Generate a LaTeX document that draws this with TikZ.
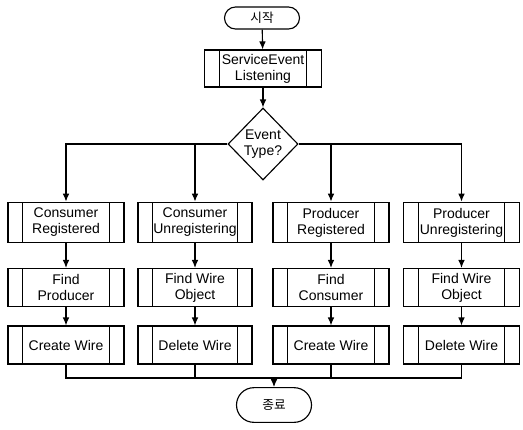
\documentclass[tikz,border=0pt]{standalone}
\usepackage{fontspec}
\setmainfont{Liberation Sans}
\newfontfamily\krfont{Noto Sans CJK KR}
\usetikzlibrary{arrows.meta,shapes.geometric,shapes.misc}
\tikzset{
  line/.style={line width=0.85pt},
  arr/.style={line, -{Latex[length=6pt,width=5pt]}},
  term/.style={draw, line width=0.85pt, rounded rectangle, minimum width=56.25pt, inner sep=0pt, font=\krfont\fontsize{9.5}{11}\selectfont},
  predef/.style={draw, line width=0.85pt, minimum width=87pt, minimum height=28.5pt, align=center, inner sep=0pt,
    font=\fontsize{10.5}{12}\selectfont,
    path picture={
      \draw[line width=0.85pt] ([xshift=11pt]path picture bounding box.north west) -- ([xshift=11pt]path picture bounding box.south west);
      \draw[line width=0.85pt] ([xshift=-11pt]path picture bounding box.north east) -- ([xshift=-11pt]path picture bounding box.south east);
    }},
  tallrow/.style={minimum height=30.5pt},
  decision/.style={draw, line width=0.85pt, diamond, aspect=1, minimum width=52.5pt, minimum height=54pt, inner sep=0pt, align=center, font=\fontsize{10.5}{12}\selectfont}
}
\begin{document}
\begin{tikzpicture}[x=0.75pt,y=-0.75pt]
\useasboundingbox (0,0) rectangle (523,429);
\node[term, minimum height=16.5pt] (start) at (262,18) {시작};
\node[predef, minimum width=87.75pt, minimum height=27.75pt] (se) at (263,68.5) {ServiceEvent\\Listening};
\node[decision] (dec) at (263,144) {Event\\Type?};

\node[predef, tallrow] (a1) at (66,222.5) {Consumer\\Registered};
\node[predef, tallrow, minimum width=85.5pt] (b1) at (195,222.5) {Consumer\\Unregistering};
\node[predef, tallrow] (c1) at (331,222.5) {Producer\\Registered};
\node[predef, tallrow] (d1) at (461.5,222.5) {Producer\\Unregistering};

\node[predef] (a2) at (66,287.5) {Find\\Producer};
\node[predef, minimum width=85.5pt] (b2) at (195,287.5) {Find Wire\\Object};
\node[predef] (c2) at (331,287.5) {Find\\Consumer};
\node[predef] (d2) at (461.5,287.5) {Find Wire\\Object};

\node[predef] (a3) at (66,345) {Create Wire};
\node[predef, minimum width=85.5pt] (b3) at (195,345) {Delete Wire};
\node[predef] (c3) at (331,345) {Create Wire};
\node[predef] (d3) at (461.5,345) {Delete Wire};

\node[term, minimum height=26pt] (end) at (274,405) {종료};

\draw[arr] (start) -- (se);
\draw[arr] (se) -- (dec);
\draw[arr] (dec.west) -| (a1.north);
\draw[arr] (dec.east) -| (d1.north);
\draw[arr] (b1.north |- dec.west) -- (b1.north);
\draw[arr] (c1.north |- dec.east) -- (c1.north);

\foreach \c in {a,b,c,d}{
  \draw[arr] (\c1) -- (\c2);
  \draw[arr] (\c2) -- (\c3);
}

\coordinate (bus) at (0,378);
\draw[line] (a3.south) -- (a3.south |- bus) -- (d3.south |- bus) -- (d3.south);
\draw[line] (b3.south) -- (b3.south |- bus);
\draw[line] (c3.south) -- (c3.south |- bus);
\draw[arr] (end.north |- bus) -- (end.north);
\end{tikzpicture}
\end{document}
